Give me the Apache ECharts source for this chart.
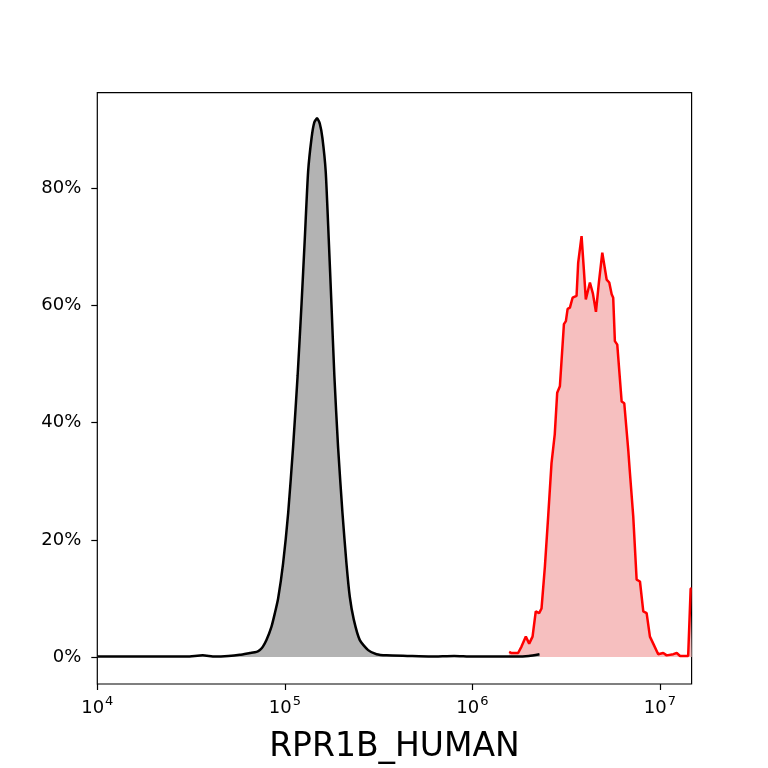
<!DOCTYPE html>
<html>
<head>
<meta charset="utf-8">
<script src="https://cdn.jsdelivr.net/npm/echarts@6/dist/echarts.min.js"></script>
<style>
html,body{margin:0;padding:0;background:#fff;}
#chart{width:768px;height:768px;}
</style>
</head>
<body>
<div id="chart"></div>
<script>
// Control (black/gray) histogram: fluorescence intensity, percent of max
const controlX = [1e4, 1.5e4, 2.2e4, 3.0e4, 3.65e4, 4.24e4, 5.0e4, 5.75e4, 6.51e4, 7.07e4, 7.36e4, 7.64e4, 7.98e4, 8.49e4, 8.85e4, 9.21e4, 9.79e4, 1.042e5, 1.107e5, 1.170e5, 1.227e5, 1.278e5, 1.331e5, 1.388e5, 1.436e5, 1.486e5, 1.536e5, 1.587e5, 1.652e5, 1.714e5, 1.773e5, 1.837e5, 1.922e5, 2.029e5, 2.131e5, 2.220e5, 2.332e5, 2.511e5, 2.781e5, 3.083e5, 3.485e5, 4.5e5, 6.0e5, 8.0e5, 1.0e6, 1.3e6, 1.7e6, 2.0e6, 2.28e6];
const controlY = [0.1, 0.1, 0.1, 0.1, 0.3, 0.1, 0.2, 0.4, 0.7, 0.9, 1.2, 1.8, 2.9, 5.2, 7.5, 10.0, 16.0, 24.6, 35.9, 48.0, 60.1, 71.4, 82.8, 88.5, 91.2, 91.9, 91.0, 88.5, 82.8, 71.4, 60.1, 48.0, 35.9, 24.6, 16.0, 10.3, 6.4, 2.9, 1.2, 0.5, 0.3, 0.2, 0.1, 0.2, 0.1, 0.1, 0.1, 0.2, 0.5];

// Sample (red) histogram
const sampleX = [1.571e6, 1.618e6, 1.754e6, 1.828e6, 1.928e6, 2.009e6, 2.094e6, 2.178e6, 2.270e6, 2.338e6, 2.436e6, 2.537e6, 2.643e6, 2.75e6, 2.834e6, 2.929e6, 3.078e6, 3.153e6, 3.221e6, 3.313e6, 3.423e6, 3.594e6, 3.667e6, 3.822e6, 3.933e6, 4.027e6, 4.235e6, 4.394e6, 4.560e6, 4.732e6, 4.930e6, 5.200e6, 5.370e6, 5.531e6, 5.637e6, 5.754e6, 5.925e6, 6.252e6, 6.457e6, 6.779e6, 6.9e6, 7.209e6, 7.516e6, 7.830e6, 8.155e6, 8.497e6, 8.848e6, 9.215e6, 9.795e6, 1.042e7, 1.087e7, 1.180e7, 1.230e7, 1.281e7, 1.415e7, 1.459e7, 1.476e7];
const sampleY = [0.9, 0.7, 0.7, 1.8, 3.5, 2.3, 3.5, 7.8, 7.5, 8.3, 15.4, 24.0, 33.1, 38.0, 45.1, 46.2, 56.8, 57.3, 59.4, 59.6, 61.3, 61.6, 67.3, 71.8, 66.0, 61.0, 63.9, 62.0, 58.9, 64.0, 69.0, 64.4, 63.9, 61.9, 61.3, 53.9, 53.3, 43.6, 43.3, 35.4, 32.0, 24.0, 13.2, 12.9, 7.8, 7.5, 3.5, 2.3, 0.5, 0.7, 0.3, 0.5, 0.7, 0.2, 0.2, 11.7, 11.7];

const xTicks = [1e4, 1e5, 1e6, 1e7];
const yTicks = [0, 20, 40, 60, 80];
const xTitle = 'RPR1B_HUMAN';

const zip = (xs, ys) => xs.map((x, i) => [x, ys[i]]);

const chart = echarts.init(document.getElementById('chart'), null, {renderer: 'canvas'});
const font = 'DejaVu Sans';
chart.setOption({
  animation: false,
  backgroundColor: '#fff',
  grid: {
    left: 97.3, top: 92.7, right: 76.4, bottom: 84,
    containLabel: false,
    outerBoundsMode: 'none',
    show: true, borderColor: '#000', borderWidth: 1.2, backgroundColor: 'transparent'
  },
  xAxis: {
    type: 'log',
    logBase: 10,
    min: 1e4,
    max: 1.476e7,
    axisLine: {show: false, onZero: false},
    splitLine: {show: false},
    minorTick: {show: false},
    axisTick: {show: true, inside: false, length: 6, lineStyle: {color: '#000', width: 1.2}, customValues: xTicks},
    axisLabel: {
      customValues: xTicks,
      margin: 11,
      formatter: function (v) {
        const e = Math.round(Math.log10(v));
        return '{b|10}{s|' + e + '}';
      },
      rich: {
        b: {fontFamily: font, fontSize: 18, color: '#000', lineHeight: 22, verticalAlign: 'bottom'},
        s: {fontFamily: font, fontSize: 13, color: '#000', lineHeight: 22, verticalAlign: 'top', padding: [0, 0, 0, 1]}
      }
    },
    name: xTitle,
    nameLocation: 'middle',
    nameGap: 47,
    nameTextStyle: {fontFamily: font, fontSize: 33, color: '#000'}
  },
  yAxis: {
    type: 'value',
    min: -4.585,
    max: 96.27,
    axisLine: {show: false},
    splitLine: {show: false},
    axisTick: {show: true, inside: false, length: 6, lineStyle: {color: '#000', width: 1.2}, customValues: yTicks},
    axisLabel: {
      customValues: yTicks,
      margin: 16,
      fontFamily: font, fontSize: 18, color: '#000',
      formatter: function (v) { return Math.round(v) + '%'; }
    }
  },
  series: [
    {
      type: 'line',
      data: zip(sampleX, sampleY),
      showSymbol: false,
      smooth: false,
      clip: true,
      lineStyle: {color: '#ff0000', width: 2.5},
      areaStyle: {color: '#f6bfbf', opacity: 1},
      z: 2
    },
    {
      type: 'line',
      data: zip(controlX, controlY),
      showSymbol: false,
      smooth: 0.2,
      clip: true,
      lineStyle: {color: '#000000', width: 2.5},
      areaStyle: {color: '#b3b3b3', opacity: 1},
      z: 3
    }
  ]
});
</script>
</body>
</html>
